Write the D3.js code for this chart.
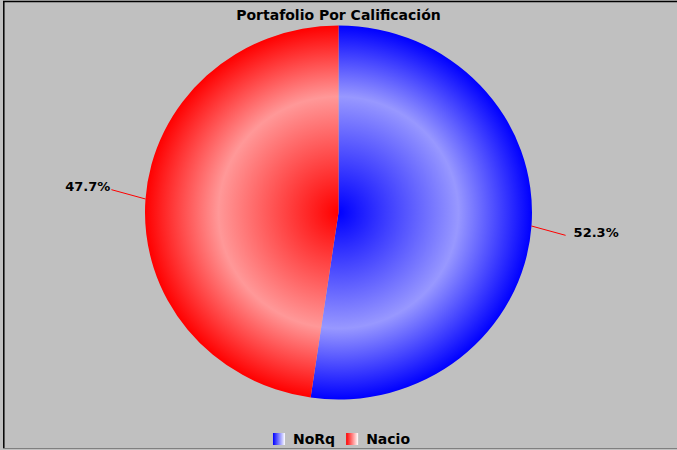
<!DOCTYPE html>
<html>
<head>
<meta charset="utf-8">
<script src="https://cdn.jsdelivr.net/npm/d3@7"></script>
<style>
html,body{margin:0;padding:0;background:#c0c0c0;}
svg{display:block;}
</style>
</head>
<body>
<svg id="chart" width="677" height="450"></svg>
<script>
const title = "Portafolio Por Calificación";
const categories = ["NoRq", "Nacio"];
const values = [52.3, 47.7];
const labels = ["52.3%", "47.7%"];
const baseColors = ["#0000ff", "#ff0000"];
const lightColors = ["#9898ff", "#ff9898"];

const W = 677, H = 450;
const cx = 338.5, cy = 212.5, rx = 193.5, ry = 187;
const svg = d3.select("#chart");

svg.append("rect").attr("x",0).attr("y",0).attr("width",W).attr("height",H).attr("fill","#c0c0c0");
// frame
svg.append("line").attr("x1",3).attr("x2",W).attr("y1",1.5).attr("y2",1.5).attr("stroke","#000").attr("stroke-width",1.5);
svg.append("line").attr("x1",3.8).attr("x2",3.8).attr("y1",1).attr("y2",449).attr("stroke","#000").attr("stroke-width",1.5);
svg.append("line").attr("x1",3).attr("x2",W).attr("y1",448.5).attr("y2",448.5).attr("stroke","#808080").attr("stroke-width",1);

const defs = svg.append("defs");
categories.forEach((c,i)=>{
  const g = defs.append("radialGradient").attr("id","rg"+i)
    .attr("gradientUnits","userSpaceOnUse").attr("cx",0).attr("cy",0).attr("r",ry);
  g.append("stop").attr("offset","0").attr("stop-color",baseColors[i]);
  g.append("stop").attr("offset","0.62").attr("stop-color",lightColors[i]);
  g.append("stop").attr("offset","1").attr("stop-color",baseColors[i]);
  const lg = defs.append("linearGradient").attr("id","lg"+i).attr("x1",0).attr("x2",1).attr("y1",0).attr("y2",0);
  lg.append("stop").attr("offset","0").attr("stop-color",baseColors[i]);
  lg.append("stop").attr("offset","1").attr("stop-color","#ffffff");
});

// title
svg.append("text").attr("x",cx).attr("y",19.5).attr("text-anchor","middle")
  .attr("font-family","DejaVu Sans").attr("font-weight","bold").attr("font-size",14)
  .attr("fill","#000").text(title);

const pie = d3.pie().sort(null).value(d=>d)(values);
const arc = d3.arc().innerRadius(0).outerRadius(ry);

const pg = svg.append("g").attr("transform",`translate(${cx},${cy}) scale(${rx/ry},1)`);
pg.selectAll("path").data(pie).join("path")
  .attr("d",arc).attr("fill",(d,i)=>`url(#rg${i})`);

// leader lines & labels
pie.forEach((d,i)=>{
  const mid = (d.startAngle+d.endAngle)/2;
  const x1 = cx + Math.sin(mid)*rx, y1 = cy - Math.cos(mid)*ry;
  const a2 = mid + 1.8*Math.PI/180;
  const x2 = cx + Math.sin(a2)*rx*1.18, y2 = cy - Math.cos(a2)*ry*1.18;
  svg.append("line").attr("x1",x1).attr("y1",y1).attr("x2",x2).attr("y2",y2)
    .attr("stroke","#ff0000").attr("stroke-width",1);
  const right = Math.sin(mid) > 0;
  svg.append("text").attr("x", right ? x2+8 : x2-1).attr("y", y2+1.5)
    .attr("text-anchor", right ? "start" : "end")
    .attr("font-family","DejaVu Sans").attr("font-weight","bold").attr("font-size",13)
    .attr("fill","#000").text(labels[i]);
});

// legend
const lgG = svg.append("g");
let x = 0;
categories.forEach((c,i)=>{
  lgG.append("rect").attr("x",x).attr("y",433).attr("width",12).attr("height",12).attr("fill",`url(#lg${i})`);
  const t = lgG.append("text").attr("x",x+20).attr("y",444)
    .attr("font-family","DejaVu Sans").attr("font-weight","bold").attr("font-size",14)
    .attr("fill","#000").text(c);
  x += 20 + t.node().getComputedTextLength() + 11;
});
const total = x - 11;
lgG.attr("transform",`translate(${341.5 - total/2},0)`);
</script>
</body>
</html>
